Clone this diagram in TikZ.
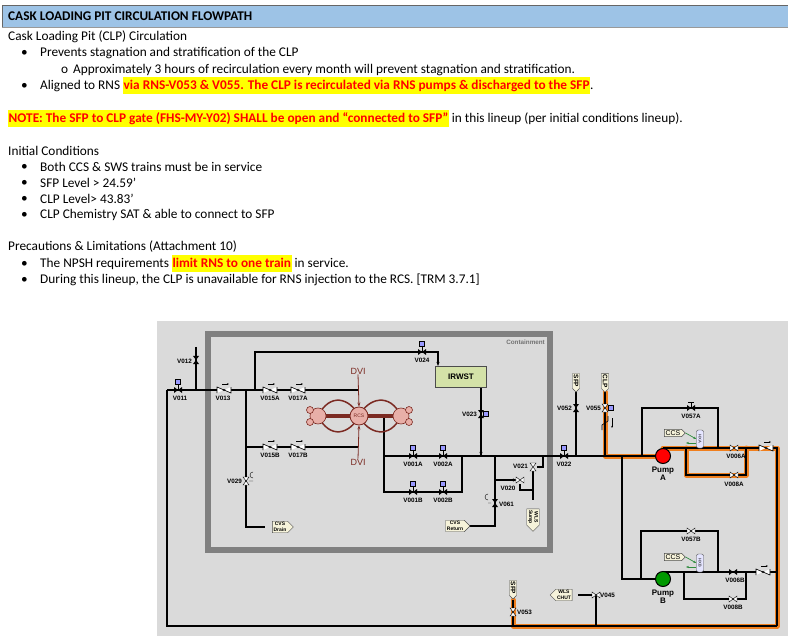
\documentclass[tikz,border=0pt]{standalone}
\usepackage{fontspec}
\setmainfont{Carlito}
\newfontfamily\schem{Liberation Sans}
\usetikzlibrary{arrows.meta,shapes.symbols}
\definecolor{hdr}{HTML}{9DC3E6}
\definecolor{bg}{HTML}{DADADA}
\definecolor{wall}{HTML}{808080}
\definecolor{rcs}{HTML}{7B2A22}
\definecolor{rcsf}{HTML}{E8AFA8}
\definecolor{org}{HTML}{F07F1E}
\definecolor{irw}{HTML}{D4E2A8}
\definecolor{tagf}{HTML}{F6F3DA}
\definecolor{hl}{HTML}{FFFF00}
\definecolor{rd}{HTML}{FF0000}
\definecolor{ccsg}{HTML}{2E8B3E}
\newcommand\hl[1]{{\setlength\fboxsep{0.5pt}\colorbox{hl}{\color{rd}\bfseries\strut #1}}}
\newcommand\hv[2]{\fill[black] ({#1-4},{#2-3})--(#1,#2)--({#1-4},{#2+3})--cycle ({#1+4},{#2-3})--(#1,#2)--({#1+4},{#2+3})--cycle;}
\newcommand\vv[2]{\fill[black] ({#1-3},{#2-4})--(#1,#2)--({#1+3},{#2-4})--cycle ({#1-3},{#2+4})--(#1,#2)--({#1+3},{#2+4})--cycle;}
\newcommand\hvo[2]{\filldraw[fill=white,draw=black,line width=0.4pt] ({#1-4},{#2-3})--(#1,#2)--({#1-4},{#2+3})--cycle ({#1+4},{#2-3})--(#1,#2)--({#1+4},{#2+3})--cycle;}
\newcommand\vvo[2]{\filldraw[fill=white,draw=black,line width=0.4pt] ({#1-3},{#2-4})--(#1,#2)--({#1+3},{#2-4})--cycle ({#1-3},{#2+4})--(#1,#2)--({#1+3},{#2+4})--cycle;}
\newcommand\ck[2]{\draw[black,line width=0.6pt,fill=white] ({#1-7},{#2+3})--({#1-7},{#2-3})--({#1+7},{#2+3})--({#1+7},{#2-3}); \draw[-{Stealth[length=2pt]},line width=0.5pt] ({#1-2},{#2-6})--({#1+5},{#2-6});}
\newcommand\mo[2]{\filldraw[fill=blue!40,draw=black,line width=0.3pt] ({#1-2.5},{#2-11})rectangle({#1+2.5},{#2-6}); \draw[line width=0.4pt] (#1,{#2-6})--(#1,#2);}
\begin{document}
\begin{tikzpicture}[x=1pt,y=-1pt,
  txt/.style={anchor=west,inner sep=0pt,font=\fontsize{13.3}{16}\selectfont},
  lbl/.style={inner sep=0pt,font=\schem\bfseries\fontsize{6.3}{7}\selectfont},
  pipe/.style={line width=1.1pt,black},
  opipe/.style={line width=5pt,org,line cap=round,line join=round},
  tag/.style={signal,signal to=east,draw=black!70,fill=tagf,line width=0.4pt,inner sep=1.2pt,font=\schem\bfseries\fontsize{5}{5.5}\selectfont,align=center}]
\useasboundingbox (0,0) rectangle (790,636);
\fill[white] (0,0) rectangle (790,636);
% header
\fill[hdr] (2,5) rectangle (788,27);
\draw[black!60,line width=0.6pt] (2,27)--(2,5)--(788,5);
\draw[black!40] (2,27)--(788,27);
\node[txt,font=\bfseries\fontsize{13.3}{16}\selectfont] (title) at (8,16) {CASK LOADING PIT CIRCULATION FLOWPATH};
\node[txt] (t1) at (8,37) {Cask Loading Pit (CLP) Circulation};
\node[txt] (b1) at (21,53) {•}; \node[txt] (t2) at (40,53) {Prevents stagnation and stratification of the CLP};
\node[txt] (b2) at (61,70) {o}; \node[txt] (t3) at (73,70) {Approximately 3 hours of recirculation every month will prevent stagnation and stratification.};
\node[txt] (b3) at (21,86) {•}; \node[txt] (t4) at (40,86) {Aligned to RNS \hl{via RNS-V053 \& V055. The CLP is recirculated via RNS pumps \& discharged to the SFP}.};
\node[txt] (t5) at (8,119) {\hl{NOTE: The SFP to CLP gate (FHS-MY-Y02) SHALL be open and “connected to SFP”} in this lineup (per initial conditions lineup).};
\node[txt] (t6) at (8,151) {Initial Conditions};
\node[txt] (b4) at (21,167) {•}; \node[txt] (t7) at (40,167) {Both CCS \& SWS trains must be in service};
\node[txt] (b5) at (21,183) {•}; \node[txt] (t8) at (40,183) {SFP Level > 24.59’};
\node[txt] (b6) at (21,199) {•}; \node[txt] (t9) at (40,199) {CLP Level> 43.83’};
\node[txt] (b7) at (21,215) {•}; \node[txt] (t10) at (40,215) {CLP Chemistry SAT \& able to connect to SFP};
\node[txt] (t11) at (8,247) {Precautions \& Limitations (Attachment 10)};
\node[txt] (b8) at (21,264) {•}; \node[txt] (t12) at (40,264) {The NPSH requirements \hl{limit RNS to one train} in service.};
\node[txt] (b9) at (21,280) {•}; \node[txt] (t13) at (40,280) {During this lineup, the CLP is unavailable for RNS injection to the RCS. [TRM 3.7.1]};
% schematic background
\fill[bg] (157,321) rectangle (788,636);
\draw[wall,line width=6pt] (208,334) rectangle (550,550);
\node[lbl,text=black!55,anchor=east] (cont) at (545,342) {Containment};
% orange path
\draw[opipe] (605,392)--(605,456)--(663,456);
\draw[opipe] (663,448)--(777,448)--(777,626)--(513,626)--(513,600);
\draw[opipe] (686,448)--(686,475)--(746,475)--(746,448);
% black pipes
\draw[pipe] (196,347)--(196,390);
\draw[pipe] (167,390)--(358,390);
\draw[pipe] (167,390)--(167,626)--(777,626);
\draw[pipe] (255,390)--(255,352)--(438,352)--(438,364);
\draw[-{Stealth[length=4pt]},line width=0.8pt] (438,352)--(438,366);
\draw[pipe] (246,390)--(246,527)--(265,527);
\draw[pipe] (246,447)--(358,447);
\draw[pipe] (384,416)--(384,492)--(462,492)--(462,456);
\draw[pipe] (384,456)--(663,456);
\draw[pipe] (481,387)--(481,456);
\draw[-{Stealth[length=4pt]},line width=0.8pt] (481,440)--(481,456);
\draw[pipe] (495,456)--(495,526)--(468,526);
\draw[pipe] (495,480)--(515,480);
\draw[-{Stealth[length=4pt]},line width=0.8pt] (505,480)--(517,480);
\draw[pipe] (543,456)--(543,467)--(537,467);
\draw[-{Stealth[length=3pt]},line width=0.8pt] (543,467)--(537,467);
\draw[pipe] (533,471)--(533,500) (520,484)--(520,490)--(533,490);
\draw[pipe] (576,392)--(576,456);
\draw[pipe] (605,392)--(605,456)--(663,456);
\draw[pipe] (642,456)--(642,408)--(718,408)--(718,448);
\draw[pipe] (663,448)--(777,448)--(777,626);
\draw[pipe] (686,448)--(686,475)--(746,475)--(746,448);
\draw[pipe] (622,456)--(622,579)--(663,579);
\draw[pipe] (641,579)--(641,531)--(718,531)--(718,572);
\draw[pipe] (663,572)--(777,572);
\draw[pipe] (684,572)--(684,599)--(746,599)--(746,572);
\draw[pipe] (513,600)--(513,626);
\draw[pipe] (578,595)--(596,595)--(596,626);
% RCS
\begin{scope}[rcs,line width=1.5pt]
\draw (318,416) .. controls (330,392) and (350,398) .. (359,416) .. controls (368,398) and (390,392) .. (401,416);
\draw (318,416) .. controls (330,440) and (350,434) .. (359,416) .. controls (368,434) and (390,440) .. (401,416);
\draw[line width=4pt] (318,416)--(401,416);
\end{scope}
\foreach \cx/\cy/\r in {318/416/8,401/416/8,310/410/3.5,310/422/3.5,409/410/3.5,409/422/3.5}
  \filldraw[fill=rcsf,draw=rcs,line width=0.6pt] (\cx,\cy) circle (\r);
\node[circle,fill=rcsf,draw=rcs,line width=0.8pt,minimum size=18pt,inner sep=0pt,font=\schem\fontsize{5}{5}\selectfont,text=rcs] (rcsn) at (359,416) {RCS};
\node[lbl,font=\schem\fontsize{9}{10}\selectfont,text=rcs] (dvi1) at (358,371) {DVI};
\node[lbl,font=\schem\fontsize{9}{10}\selectfont,text=rcs] (dvi2) at (358,462) {DVI};
\draw[rcs,line width=0.8pt,-{Stealth[length=4pt]}] (dvi1.south)--(rcsn.north);
\draw[rcs,line width=0.8pt,-{Stealth[length=4pt]}] (dvi2.north)--(rcsn.south);
% IRWST
\node[draw=black!70,fill=irw,line width=0.8pt,minimum width=51pt,minimum height=21pt,inner sep=0pt,font=\schem\bfseries\fontsize{8}{9}\selectfont] (irwst) at (461,377) {IRWST};
% tags
\node[tag] (cvsd) at (280,527) {CVS\\Drain};
\node[tag] (cvsr) at (455,526) {CVS\\Return};
\node[tag,rotate=-90,font=\schem\bfseries\fontsize{6.5}{6.5}\selectfont] (sfp1) at (576,381) {SFP};
\node[tag,rotate=-90,font=\schem\bfseries\fontsize{6.5}{6.5}\selectfont] (clp) at (605,381) {CLP};
\node[tag,rotate=-90,font=\schem\bfseries\fontsize{6.5}{6.5}\selectfont] (sfp2) at (513,588) {SFP};
\node[tag,rotate=-90] (wls1) at (533,517) {WLS\\Sump};
\node[tag,signal to=west] (wls2) at (564,595) {WLS\\CHUT};
\node[tag,font=\schem\fontsize{7}{7}\selectfont] (ccsa) at (673,433) {CCS};
\node[tag,font=\schem\fontsize{7}{7}\selectfont] (ccsb) at (673,557) {CCS};
\node[draw=black!70,fill=blue!10,rounded corners=2pt,minimum width=7pt,minimum height=18pt,inner sep=0pt,font=\schem\fontsize{4}{4}\selectfont] (hxa) at (700,439) {\rotatebox{-90}{HXA}};
\node[draw=black!70,fill=blue!10,rounded corners=2pt,minimum width=7pt,minimum height=18pt,inner sep=0pt,font=\schem\fontsize{4}{4}\selectfont] (hxb) at (700,563) {\rotatebox{-90}{HXB}};
\draw[ccsg,line width=0.7pt,-{Stealth[length=3pt]}] (ccsa.east)--(hxa.west);
\draw[ccsg,line width=0.7pt,-{Stealth[length=3pt]}] (696,443)--(686,443);
\draw[ccsg,line width=0.7pt,-{Stealth[length=3pt]}] (ccsb.east)--(hxb.west);
\draw[ccsg,line width=0.7pt,-{Stealth[length=3pt]}] (696,567)--(686,567);
% pumps
\node[circle,fill=red,draw=black,line width=1pt,minimum size=15pt,inner sep=0pt] (pa) at (663,456) {};
\node[circle,fill=green!60!black,draw=black,line width=1pt,minimum size=15pt,inner sep=0pt] (pb) at (663,579) {};
\node[lbl,align=center,font=\schem\bfseries\fontsize{8}{8}\selectfont] (pal) at (663,474) {Pump\\A};
\node[lbl,align=center,font=\schem\bfseries\fontsize{8}{8}\selectfont] (pbl) at (663,597) {Pump\\B};
% valves
\vv{196}{360} \node[lbl,anchor=east] (l012) at (192,361) {V012};
\hv{178}{390} \mo{178}{390} \node[lbl] (l011) at (180,398) {V011};
\ck{224}{390} \node[lbl] (l013) at (223,398) {V013};
\ck{270}{390} \node[lbl] (l015a) at (270,398) {V015A};
\ck{298}{390} \node[lbl] (l017a) at (298,398) {V017A};
\ck{270}{447} \node[lbl] (l015b) at (270,455) {V015B};
\ck{298}{447} \node[lbl] (l017b) at (298,455) {V017B};
\hv{422}{352} \mo{422}{352} \node[lbl] (l024) at (422,360) {V024};
\vv{481}{414} \node[lbl,anchor=east] (l023) at (477,414) {V023};
\filldraw[fill=blue!40,draw=black,line width=0.3pt] (483,411.5) rectangle (488,416.5);
\hv{413}{456} \mo{413}{456} \node[lbl] (l001a) at (413,464) {V001A};
\hv{443}{456} \mo{443}{456} \node[lbl] (l002a) at (443,464) {V002A};
\hv{413}{492} \mo{413}{492} \node[lbl] (l001b) at (413,500) {V001B};
\hv{443}{492} \mo{443}{492} \node[lbl] (l002b) at (443,500) {V002B};
\vvo{246}{481} \node[lbl,anchor=east] (l029) at (242,481) {V029};
\draw[line width=0.4pt] (249,481)--(253,481) (253,478) arc (-90:90:-3);
\vv{495}{503} \node[lbl,anchor=west] (l061) at (499,504) {V061};
\draw[line width=0.4pt] (491,503)--(488,503) (488,500) arc (90:270:3);
\hvo{520}{480} \node[lbl] (l020) at (508,488) {V020};
\vvo{533}{467} \node[lbl,anchor=east] (l021) at (528,466) {V021};
\hv{564}{456} \mo{564}{456} \node[lbl] (l022) at (564,464) {V022};
\vv{576}{408} \node[lbl,anchor=east] (l052) at (572,408) {V052};
\vvo{605}{408} \node[lbl,anchor=east] (l055) at (601,408) {V055};
\filldraw[fill=blue!40,draw=black,line width=0.3pt] (608,405.5) rectangle (613,410.5);
\draw[black,line width=0.6pt] (602,430)--(602,425)--(608,421)--(608,416);
\draw[-{Stealth[length=2pt]},line width=0.5pt] (612,418)--(612,428);
\hv{691}{408} \draw[line width=0.5pt] (691,408)--(691,402) (688,402)--(694,402); \node[lbl] (l057a) at (691,416) {V057A};
\hvo{734}{448} \node[lbl] (l006a) at (736,456) {V006A};
\hvo{734}{475} \node[lbl] (l008a) at (734,484) {V008A};
\ck{766}{448}
\hvo{691}{531} \node[lbl] (l057b) at (691,539) {V057B};
\hv{733}{572} \node[lbl] (l006b) at (735,580) {V006B};
\hvo{733}{599} \node[lbl] (l008b) at (733,607) {V008B};
\ck{763}{572}
\vvo{513}{612} \node[lbl,anchor=west] (l053) at (517,612) {V053};
\hvo{596}{595} \node[lbl,anchor=west] (l045) at (600,595) {V045};
\end{tikzpicture}
\end{document}
